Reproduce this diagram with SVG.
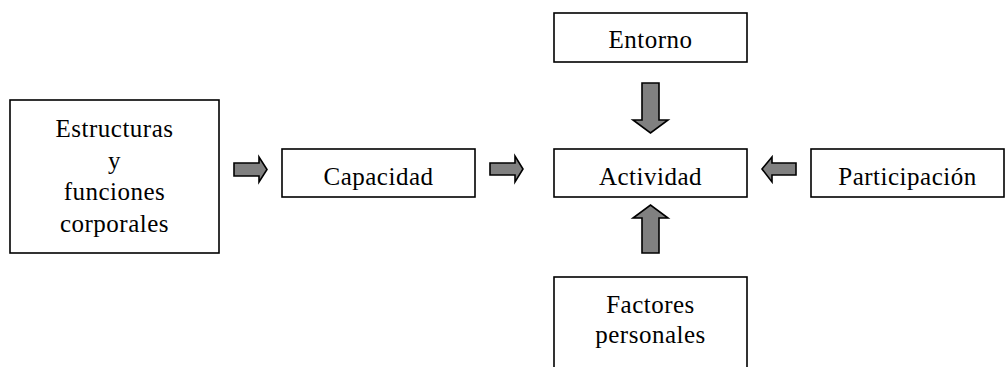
<svg xmlns="http://www.w3.org/2000/svg" width="1007" height="367" viewBox="0 0 1007 367">
<style>
.box{fill:#fff;stroke:#000;stroke-width:1.6}
.t{font-family:"Liberation Serif","Times New Roman",serif;font-size:25px;letter-spacing:0.5px;fill:#000;text-anchor:middle}
.arr{fill:#808080;stroke:#000;stroke-width:1.6;stroke-linejoin:miter}
</style>
<rect width="1007" height="367" fill="#fff"/>
<g id="estructuras">
<rect class="box" x="10" y="100" width="209" height="153"/>
<text class="t" x="114.5" y="137">Estructuras</text>
<text class="t" x="114.5" y="169">y</text>
<text class="t" x="114.5" y="200">funciones</text>
<text class="t" x="114.5" y="232">corporales</text>
</g>
<g id="capacidad">
<rect class="box" x="282" y="149" width="193" height="48"/>
<text class="t" x="378.5" y="185">Capacidad</text>
</g>
<g id="actividad">
<rect class="box" x="554" y="149" width="193" height="48"/>
<text class="t" x="650.5" y="185">Actividad</text>
</g>
<g id="entorno">
<rect class="box" x="554" y="13" width="193" height="49"/>
<text class="t" x="650.5" y="48">Entorno</text>
</g>
<g id="participacion">
<rect class="box" x="811" y="149" width="193" height="48"/>
<text class="t" x="907.5" y="185">Participación</text>
</g>
<g id="factores">
<rect class="box" x="554" y="277" width="193" height="100"/>
<text class="t" x="650.5" y="313">Factores</text>
<text class="t" x="650.5" y="343">personales</text>
</g>
<g id="connectors">
<polygon class="arr" points="234,163 259,163 259,157 267,169.5 259,182 259,176 234,176"/>
<polygon class="arr" points="490,163 515,163 515,156 523,169 515,182 515,175 490,175"/>
<polygon class="arr" points="796,163 772,163 772,157 762,169 772,182 772,175 796,175"/>
<polygon class="arr" points="642,83 659,83 659,120 668,120 650.5,133 633,120 642,120"/>
<polygon class="arr" points="642,253 659,253 659,218 668,218 650.5,205 633,218 642,218"/>
</g>
</svg>
